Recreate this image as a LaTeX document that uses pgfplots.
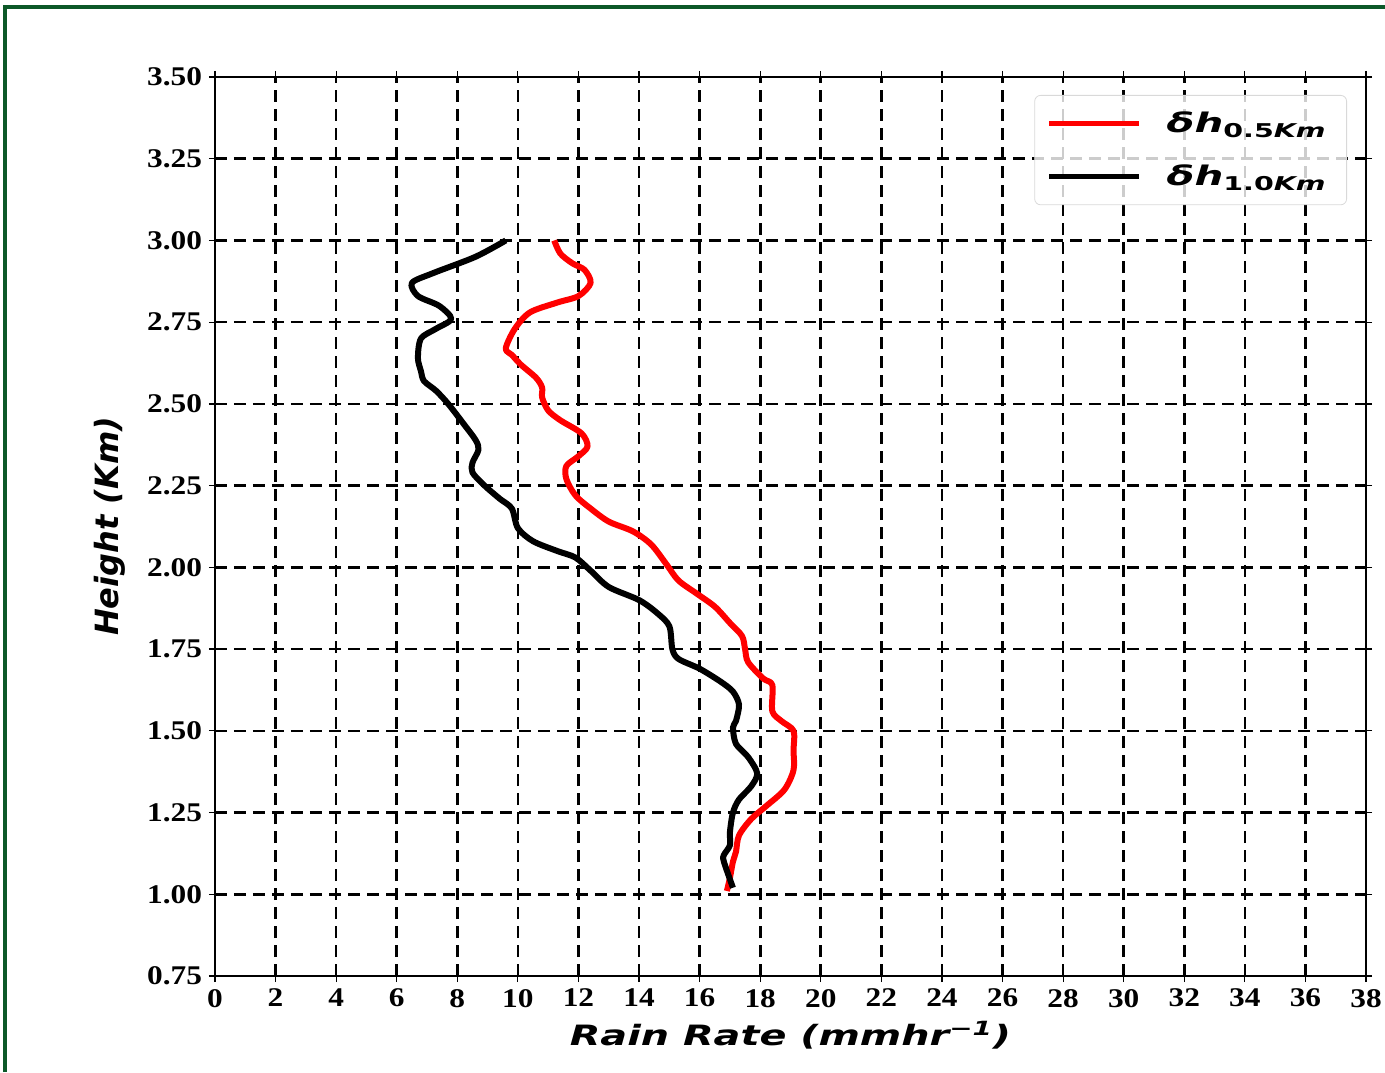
\documentclass[border=0pt]{standalone}
\usepackage{fontspec}
\setmainfont{Liberation Serif}[FakeStretch=1.16]
\newfontfamily\xlabfont{DejaVu Sans}[FakeStretch=1.42]
\newfontfamily\ylabfont{DejaVu Sans}
\newfontfamily\legfont{DejaVu Sans}[FakeStretch=1.5]
\usepackage{pgfplots}
\pgfplotsset{compat=1.18}
\definecolor{frameg}{RGB}{12,88,40}
\newcommand\legtxt[1]{\hspace{10.5pt}δh{\fontsize{9.5}{9.5}\selectfont\raisebox{-2.5pt}{{\upshape #1}Km}}\hspace{2.5pt}}
\begin{document}
\begin{tikzpicture}
\useasboundingbox (-107.5pt,-48pt) rectangle (585pt,488pt);
\draw[frameg,line width=2pt] (-105pt,-48pt) -- (-105pt,484.5pt) -- (585pt,484.5pt);
\begin{axis}[
  at={(0pt,0pt)}, anchor=south west,
  width=575.5pt, height=449.5pt, scale only axis,
  xmin=0, xmax=38, ymin=0.75, ymax=3.5,
  xtick={0,2,...,38},
  ytick={0.75,1.00,1.25,1.50,1.75,2.00,2.25,2.50,2.75,3.00,3.25,3.50},
  /pgf/number format/assume math mode=true,
  yticklabel style={/pgf/number format/.cd,fixed,fixed zerofill,precision=2},
  ticklabel style={font=\bfseries\fontsize{13.5}{13.5}\selectfont},
  tick align=center, major tick length=6pt,
  tick style={black, line width=0.6pt},
  axis line style={black, line width=0.6pt},
  grid=major,
  major grid style={black, dash pattern=on 6pt off 3.5pt, line width=1.3pt},
  xlabel={\xlabfont\bfseries\itshape\fontsize{14}{14}\selectfont Rain Rate (mmhr\textsuperscript{−1})},
  ylabel={\ylabfont\bfseries\itshape\fontsize{16}{16}\selectfont Height (Km)},
  xlabel style={yshift=0pt},
  ylabel style={yshift=4pt},
  legend style={at={(0.9835,0.98)}, anchor=north east, draw=black!15, rounded corners=3pt,
     fill=white, fill opacity=0.8, text opacity=1, inner xsep=6pt, inner ysep=6pt,
     font=\legfont\bfseries\itshape\fontsize{13.5}{13.5}\selectfont, row sep=11pt},
  legend cell align=left,
  legend image code/.code={\draw[#1, line width=2.5pt] (0pt,0pt) -- (45pt,0pt);},
]
\addplot[red, line width=3pt, line join=round, smooth, tension=0.5] table {
x y
11.2 3.00
11.4 2.96
11.8 2.93
12.2 2.91
12.4 2.87
12.0 2.83
11.3 2.81
10.4 2.78
9.9 2.73
9.6 2.67
9.8 2.65
10.1 2.62
10.6 2.58
10.8 2.55
10.8 2.52
11.0 2.48
11.4 2.45
12.1 2.41
12.3 2.37
12.0 2.34
11.6 2.31
11.6 2.27
11.9 2.22
12.4 2.18
13.0 2.14
13.8 2.11
14.4 2.07
14.9 2.01
15.3 1.96
15.9 1.92
16.5 1.88
17.0 1.83
17.4 1.79
17.5 1.75
17.6 1.71
18.1 1.66
18.4 1.64
18.4 1.56
18.7 1.53
19.1 1.50
19.1 1.44
19.1 1.38
18.8 1.32
18.2 1.27
17.7 1.23
17.3 1.18
17.2 1.13
17.1 1.10
17.0 1.05
16.9 1.01
};
\addlegendentry{\legtxt{0.5}}
\addplot[black, line width=3pt, line join=round, smooth, tension=0.5] table {
x y
9.6 3.00
8.6 2.95
7.2 2.90
6.5 2.87
6.7 2.83
7.4 2.80
7.8 2.76
7.3 2.73
6.8 2.70
6.7 2.64
6.8 2.60
6.9 2.57
7.3 2.54
7.7 2.50
8.2 2.44
8.6 2.39
8.7 2.36
8.5 2.32
8.5 2.29
8.9 2.25
9.4 2.21
9.8 2.18
10.0 2.12
10.5 2.08
11.3 2.05
11.9 2.03
12.4 1.99
13.0 1.94
14.0 1.90
14.6 1.86
15.0 1.82
15.1 1.75
15.3 1.72
16.0 1.69
16.7 1.65
17.1 1.62
17.3 1.58
17.2 1.53
17.1 1.51
17.2 1.46
17.6 1.42
17.9 1.37
17.7 1.33
17.3 1.29
17.1 1.25
17.0 1.19
17.0 1.15
16.8 1.12
16.8 1.10
17.1 1.02
};
\addlegendentry{\legtxt{1.0}\rule[-6pt]{0pt}{6pt}}
\end{axis}
\end{tikzpicture}
\end{document}
